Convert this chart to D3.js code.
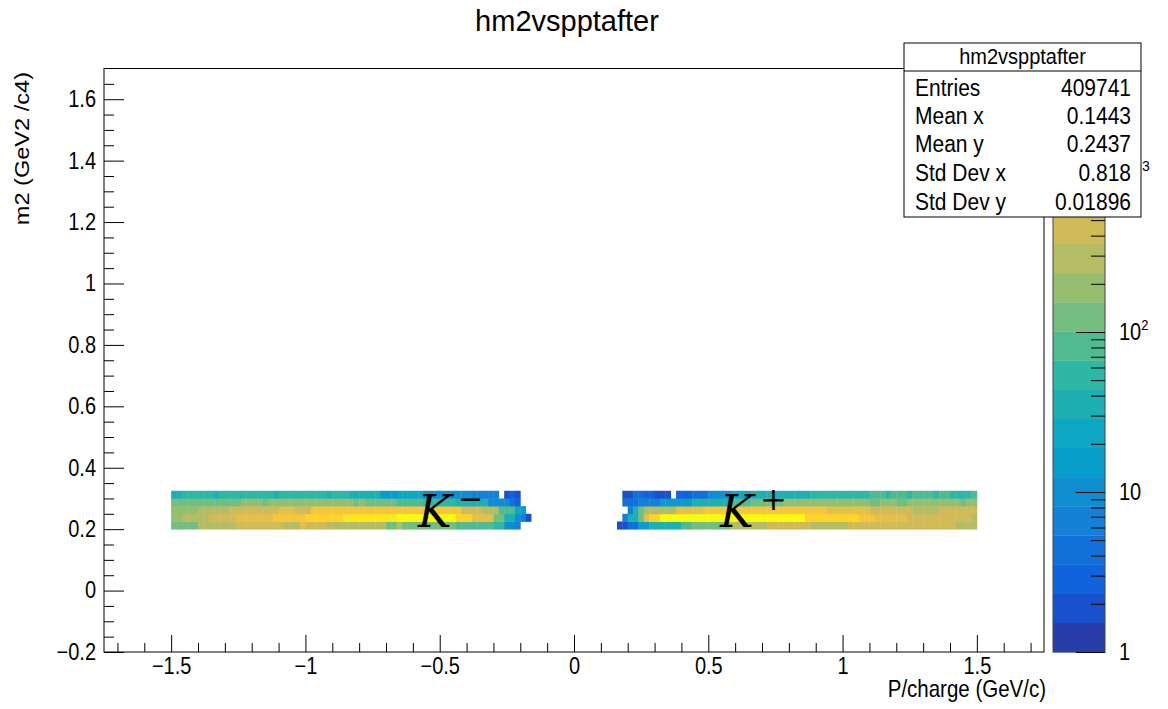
<!DOCTYPE html>
<html><head><meta charset="utf-8">
<script src="https://cdn.jsdelivr.net/npm/d3@7"></script>
<style>
body{margin:0;background:#fff;}
svg text{fill:#000;}
</style>
</head><body>
<svg id="c" width="1168" height="709"></svg>
<script>
// ---------- data ----------
const chartTitle = "hm2vspptafter";
const xLabel = "P/charge (GeV/c)";
const yLabel = "m2 (GeV2 /c4)";
const xTicks = [-1.5, -1, -0.5, 0, 0.5, 1, 1.5];
const yTicks = [-0.2, 0, 0.2, 0.4, 0.6, 0.8, 1, 1.2, 1.4, 1.6];
const binWidthX = 0.02;
const yBinEdges = [0.2, 0.225, 0.25, 0.275, 0.3, 0.325];
const leftStartX = -1.5;   // K- band
const rightStartX = 0.16;  // K+ band

// rows: 0 = 0.200-0.225 ... 4 = 0.300-0.325 ; 67 x-bins each (width 0.02)
const leftRow0 = [150,150,150,150,150, 286,286,286,286,286,286,286, 436,436,436,436,436,436,436,436,436, 350,350,350, 550, 436,436,436,436, 350,350,350,350,350,350,350,350,350,350,350, 124,124, 286, 124,124,124, 150,150,150,150,150,150,150, 81,81,81,81,81,81,81, 45,45, 12,10,8, 0,0];
const leftRow1 = [188,188, 286,286,286,286,286, 436,436,436,436,436, 662,662,662,662,662,662,662, 1007,1007,1007,1007,1007,1007, 1531,1531,1531,1531,1531,1531,1531, 2328,2328,2328,2328,2328,2328,2328,2328,2328,2328, 3540,3540,3540,3540,3540,3540,3540,3540,3540,3540,3540, 1531,1531,1531, 550,550,550,550, 124,124, 35,35, 10,8, 2];
const leftRow2 = [188,188,188,188,188, 286,286,286,286,286,286, 436,436,436,436,436,436,436,436,436, 662,662,662, 500,500,500, 1000,1000,1000,1000,1000,1000,1000,1000,1000,1000,1000,1000,1000,1000,1000,1000,1000,1000,1000, 900,900,900,900,900,900,900,900,900, 436,436,436,436, 286,286,286, 81,81,81, 23,15, 0];
const leftRow3 = [124,124,124,124,124,124,124,124,124,124,124,124,124, 188,188,188,188, 124, 188,188,188,188,188,188,188,188,188,188,188,188,188,188,188,188, 124, 188, 124,124,124,124,124,124, 81,81,81,81,81, 54,54,54,54,54,54, 30,30,30,30,30,30, 10,10,10,10, 4,3, 0,0];
const leftRow4 = [35,35, 50,50,50,50,50,50, 35, 50,50,50,50,50,50,50,50,50,50, 35, 50,50,50,50,50,50,50,50,50, 35, 45,45,45, 30,30,30,30,30,30, 18,18,18, 25,25,25,25,25, 12,12,12,12,12,12,12,12,12, 8,8,8,8,8, 0, 2,3,2, 0,0];

const rightRow0 = [2,2, 4,4, 15,15, 35,35,35,35,35,35, 81,81, 150,150,150,150,150,150,150, 286,286,286,286,286,286,286, 436,436,436,436,436,436,436,436, 350,350,350,350,350,350,350, 436,436,436,436,436,436,436,436,436,436,436,436, 400,400,400,400,400,400,400,400, 286,286,286,286];
const rightRow1 = [0, 7, 35,35, 124, 662, 1531,1531, 3540,3540,3540,3540,3540,3540,3540,3540,3540,3540,3540,3540,3540,3540,3540,3540,3540,3540,3540,3540,3540,3540,3540,3540,3540,3540,3540, 1531,1531,1531,1531,1531,1531,1531,1531,1531,1531, 1200,1200,1200, 800,800,800,800,800,800, 500,500,500,500,500, 436,436,436,436,436,436,436, 300];
const rightRow2 = [0,0, 7, 35, 124, 350,350,350,350,350,350, 662,662,662,662,662, 1007,1007,1007,1007,1007,1007,1007,1007,1007,1007,1007,1007,1007,1007,1007,1007,1007,1007,1007,1007,1007,1007,1007, 662,662,662,662,662,662,662,662, 436,436,436,436,436,436,436,436, 300,300,300,300,300, 380,380,380,380,380,380,380];
const rightRow3 = [0, 4,4,4, 8,8,8,8, 18,18,18,18,18,18, 35,35,35,35,35,35,35, 90,90,90,90, 124,124,124,124,124,124, 188,188,188,188,188,188,188,188,188,188,188,188,188,188,188,188, 124,124, 188,188,188, 124,124, 188,188,188,188,188,188,188,188,188,188, 124, 188,188];
const rightRow4 = [0, 2,2, 4,4, 3,3, 2,2,2, 0, 3,3,3, 5,5,5, 12,12,12,12, 23,23,23,23, 35,35,35,35,35,35,35,35,35,35,35, 60,60,60,60,60,60,60,60,60, 45,45, 81,81,81, 45, 81,81,81, 45, 81,81,81,81, 45, 81,81, 45,45,45,45, 81];

const zMax = 4400;
const nLevels = 20;
const colorMajor = [1, 10, 100];
const colorHidden = 1000;   // label mostly hidden behind stats box, only exponent shows
const colorMinor = [2,3,4,5,6,7,8,9,20,30,40,50,60,70,80,90,200,300,400,500,600,700,800,900,2000,3000,4000];

// ROOT kBird palette stops
const birdStops = [0, 0.125, 0.25, 0.375, 0.5, 0.625, 0.75, 0.875, 1];
const birdRed   = [0.2082, 0.0592, 0.0780, 0.0232, 0.1802, 0.5301, 0.8186, 0.9956, 0.9764];
const birdGreen = [0.1664, 0.3599, 0.5041, 0.6419, 0.7178, 0.7492, 0.7328, 0.7862, 0.9832];
const birdBlue  = [0.5293, 0.8684, 0.8385, 0.7914, 0.6425, 0.4662, 0.3499, 0.1968, 0.0539];

const statTitle = "hm2vspptafter";
const statLabels = ["Entries", "Mean x", "Mean y", "Std Dev x", "Std Dev y"];
const statValues = ["409741", "0.1443", "0.2437", "0.818", "0.01896"];

// ---------- drawing ----------
const SANS = '"Liberation Sans",Arial,Helvetica,sans-serif';
const SERIF = '"DejaVu Serif","Liberation Serif",serif';
const SY = 1.15; // vertical stretch of the reference text
const svg = d3.select("#c");
const X0 = 104, X1 = 1044, Y0 = 652, Y1 = 68.5;
const x = d3.scaleLinear().domain([-1.75, 1.75]).range([X0, X1]);
const y = d3.scaleLinear().domain([-0.2, 1.7]).range([Y0, Y1]);
const zy = d3.scaleLog().domain([1, zMax]).range([652, 69]);

function vstretch(sel, s) {
  sel.each(function () {
    const t = d3.select(this);
    const yy = +t.attr("y") || 0;
    t.attr("transform", `matrix(1,0,0,${s},0,${yy * (1 - s)})`);
  });
}

const paletteScale = d3.scaleLinear().domain(birdStops)
  .range(birdStops.map((s, i) => d3.rgb(birdRed[i]*255, birdGreen[i]*255, birdBlue[i]*255)))
  .interpolate(d3.interpolateRgb);
function levelColor(l) {
  const idx = Math.floor((l + 0.99) * 255 / nLevels);
  return paletteScale(Math.min(idx, 254) / 254);
}
function levelOf(v) {
  return Math.max(0, Math.min(nLevels - 1, Math.floor(Math.log10(v) / Math.log10(zMax) * nLevels)));
}

// cells
const bands = [
  {start: leftStartX, rows: [leftRow0, leftRow1, leftRow2, leftRow3, leftRow4]},
  {start: rightStartX, rows: [rightRow0, rightRow1, rightRow2, rightRow3, rightRow4]}
];
const cells = [];
bands.forEach(b => b.rows.forEach((row, r) => row.forEach((v, i) => {
  if (v >= 1) cells.push({x0: b.start + i * binWidthX, y0: yBinEdges[r], y1: yBinEdges[r + 1], v});
})));
svg.append("g").selectAll("rect").data(cells).join("rect")
  .attr("x", d => x(d.x0))
  .attr("width", d => x(d.x0 + binWidthX) - x(d.x0) + 0.4)
  .attr("y", d => y(d.y1))
  .attr("height", d => y(d.y0) - y(d.y1) + 0.4)
  .attr("fill", d => levelColor(levelOf(d.v)));

// particle labels
function kLabel(xk, sign, sx, sy, ss) {
  svg.append("text").attr("x", xk).attr("y", 527).style("font-family", SERIF)
    .style("font-style", "italic").style("font-size", "45px").text("K");
  svg.append("text").attr("x", sx).attr("y", sy).style("font-family", SERIF)
    .style("font-size", ss + "px").text(sign);
}
kLabel(418, "\u2212", 458, 509, 30);
kLabel(720, "+", 760, 510, 32);

// axes
const fmt = d3.format("~g");
const xMinor = d3.range(-17, 18).map(v => v / 10).filter(v => Math.abs(v * 2 - Math.round(v * 2)) > 1e-6);
const yMinor = d3.range(-3, 34).map(v => v / 20).filter(v => Math.abs(v * 5 - Math.round(v * 5)) > 1e-6);

const gx = svg.append("g").attr("transform", `translate(0,${Y0})`)
  .call(d3.axisBottom(x).tickValues(xTicks).tickSize(-17).tickPadding(6).tickFormat(fmt));
const gx2 = svg.append("g").attr("transform", `translate(0,${Y0})`)
  .call(d3.axisBottom(x).tickValues(xMinor).tickSize(-9).tickFormat(""));
const gy = svg.append("g").attr("transform", `translate(${X0},0)`)
  .call(d3.axisLeft(y).tickValues(yTicks).tickSize(-20).tickPadding(8).tickFormat(fmt));
const gy2 = svg.append("g").attr("transform", `translate(${X0},0)`)
  .call(d3.axisLeft(y).tickValues(yMinor).tickSize(-10).tickFormat(""));
[gx, gx2, gy, gy2].forEach(g => {
  g.select(".domain").remove();
  g.selectAll("line").attr("stroke", "#000");
  g.selectAll("text").style("font-size", "20px").style("font-family", SANS);
});
vstretch(gx.selectAll("text"), SY);
vstretch(gy.selectAll("text"), SY);

svg.append("rect").attr("x", X0).attr("y", Y1).attr("width", X1 - X0).attr("height", Y0 - Y1)
  .attr("fill", "none").attr("stroke", "#000").attr("stroke-width", 1);

// axis titles
const xt = svg.append("text").attr("x", X1 + 2).attr("y", 697).attr("text-anchor", "end")
  .style("font-family", SANS).style("font-size", "20.5px").text(xLabel);
vstretch(xt, SY);
svg.append("text").attr("transform", `translate(29,72) rotate(-90) scale(${SY},1)`).attr("text-anchor", "end")
  .style("font-family", SANS).style("font-size", "20.5px").text(yLabel);

// title
svg.append("text").attr("x", 567).attr("y", 31).attr("text-anchor", "middle")
  .style("font-family", SANS).style("font-size", "29px").text(chartTitle);

// colour bar
const CB0 = 1053, CB1 = 1105;
const step = Math.log10(zMax) / nLevels;
svg.append("g").selectAll("rect").data(d3.range(nLevels)).join("rect")
  .attr("x", CB0).attr("width", CB1 - CB0)
  .attr("y", k => zy(Math.pow(10, (k + 1) * step)))
  .attr("height", k => zy(Math.pow(10, k * step)) - zy(Math.pow(10, (k + 1) * step)) + 0.3)
  .attr("fill", k => levelColor(k));
svg.append("rect").attr("x", CB0).attr("y", 69).attr("width", CB1 - CB0).attr("height", 652 - 69)
  .attr("fill", "none").attr("stroke", "#444").attr("stroke-width", 1);
const gz = svg.append("g").attr("transform", `translate(${CB1},0)`)
  .call(d3.axisRight(zy).tickValues(colorMajor.concat([colorHidden])).tickSize(-29).tickFormat(""));
const gz2 = svg.append("g").attr("transform", `translate(${CB1},0)`)
  .call(d3.axisRight(zy).tickValues(colorMinor).tickSize(-14).tickFormat(""));
[gz, gz2].forEach(g => { g.select(".domain").remove(); g.selectAll("line").attr("stroke", "#000"); });
colorMajor.forEach(v => {
  const e = Math.round(Math.log10(v));
  const t = svg.append("text").attr("x", 1119).attr("y", zy(v) + 8)
    .style("font-family", SANS).style("font-size", "20px");
  if (e === 0) t.text("1");
  else if (e === 1) t.text("10");
  else { t.text("10"); t.append("tspan").style("font-size", "13px").attr("dy", -9).text(String(e)); }
  vstretch(t, SY);
});

// stats box
const SB = {x: 904, y: 43, w: 237, h: 174};
svg.append("rect").attr("x", SB.x).attr("y", SB.y).attr("width", SB.w).attr("height", SB.h)
  .attr("fill", "#fff").attr("stroke", "#000").attr("stroke-width", 1);
// exponent of the 10^3 colour-bar label peeking out beside the stats box
svg.append("text").attr("x", 1142).attr("y", zy(colorHidden) - 1)
  .style("font-family", SANS).style("font-size", "14px").text(String(Math.round(Math.log10(colorHidden))));
svg.append("line").attr("x1", SB.x).attr("x2", SB.x + SB.w).attr("y1", 71).attr("y2", 71).attr("stroke", "#000");
const st = svg.append("text").attr("x", SB.x + SB.w / 2).attr("y", 64).attr("text-anchor", "middle")
  .style("font-family", SANS).style("font-size", "20px").text(statTitle);
vstretch(st, 1.1);
const rowY = [96, 124, 152, 181, 210];
statLabels.forEach((lab, i) => {
  const a = svg.append("text").attr("x", 915).attr("y", rowY[i])
    .style("font-family", SANS).style("font-size", "21px").text(lab);
  const b = svg.append("text").attr("x", 1131).attr("y", rowY[i]).attr("text-anchor", "end")
    .style("font-family", SANS).style("font-size", "21px").text(statValues[i]);
  vstretch(a, 1.1); vstretch(b, 1.1);
});
</script>
</body></html>
